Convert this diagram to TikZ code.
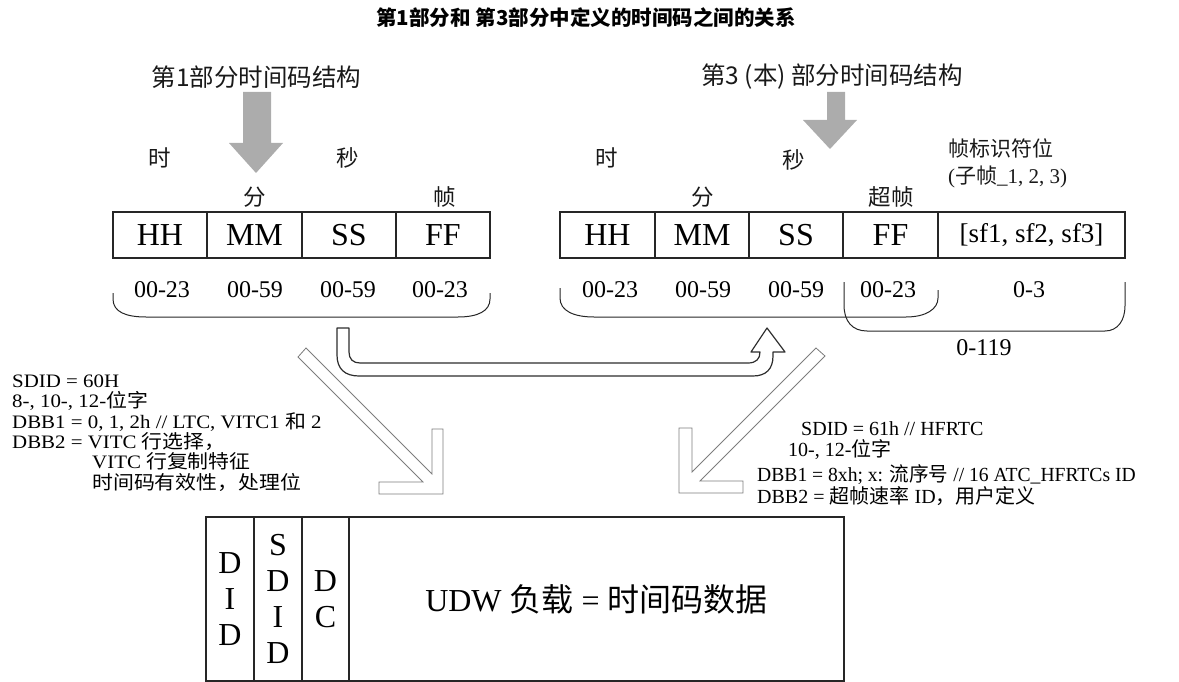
\documentclass[tikz,border=0pt]{standalone}
\usepackage{fontspec}
\setmainfont{Liberation Serif}
\newfontfamily\cjk{Noto Sans CJK SC}
\newcommand\zh[1]{{\cjk #1}}
\newcommand\wid[2]{\scalebox{#1}[1]{#2}}
\definecolor{agray}{RGB}{172,172,172}
\definecolor{ugray}{RGB}{45,45,45}
\definecolor{dgray}{RGB}{125,125,125}
\definecolor{txt}{RGB}{25,25,25}
\begin{document}
\begin{tikzpicture}[x=1pt,y=-1pt,
  cell/.style={draw=black!85, line width=1.2pt, inner sep=0pt, minimum height=46pt, font=\fontsize{32}{32}\selectfont},
  bcell/.style={draw=black!85, line width=1.2pt, inner sep=0pt, minimum height=164pt, align=center, font=\fontsize{32}{36}\selectfont},
  lab/.style={font=\cjk\fontsize{22.5}{22.5}\selectfont, inner sep=0pt, text=txt},
  hdr/.style={font=\cjk\fontsize{24.5}{24.5}\selectfont, inner sep=0pt, text=txt},
  rng/.style={font=\fontsize{24}{24}\selectfont, inner sep=0pt},
  note/.style={font=\fontsize{19}{19}\selectfont, inner sep=0pt, anchor=base west},
  rnote/.style={font=\fontsize{20}{20}\selectfont, inner sep=0pt, anchor=base west},
  brk/.style={draw=black!85, line width=1pt},
  garrow/.style={fill=agray, draw=none},
  uarrow/.style={draw=ugray, line width=1.2pt, line join=round},
  darrow/.style={draw=dgray, line width=0.8pt, line join=miter}]
\useasboundingbox (0,0) rectangle (1179,682);

% title
\node[inner sep=0pt, font=\cjk\bfseries\fontsize{20.5}{20.5}\selectfont] (title) at (586,18) {第1部分和 第3部分中定义的时间码之间的关系};

% headers
\node[hdr] (h1) at (256.5,77) {第1部分时间码结构};
\node[hdr] (h3) at (832,77) {第3 (本) 部分时间码结构};

% gray arrows
\path[garrow] (243,92) -- (271,92) -- (271,143) -- (283,143) -- (256,173) -- (229,143) -- (243,143) -- cycle;
\path[garrow] (827,92) -- (845,92) -- (845,120) -- (857,120) -- (830,149) -- (803,120) -- (827,120) -- cycle;

% left labels
\node[lab] (lh) at (160,158) {时};
\node[lab] (ls) at (348,158) {秒};
\node[lab] (lm) at (255,197) {分};
\node[lab] (lf) at (445,197) {帧};
% right labels
\node[lab] (rh) at (607,158) {时};
\node[lab] (rs) at (794,160) {秒};
\node[lab] (rm) at (703,197) {分};
\node[lab] (rf) at (891,197) {超帧};
\node[lab, anchor=west, font=\cjk\fontsize{21}{21}\selectfont] (rid) at (948,148) {帧标识符位};
\node[lab, anchor=west, font=\fontsize{21}{21}\selectfont] (rsub) at (948,177) {(\zh{子帧}\_1, 2, 3)};

% left row
\node[cell, minimum width=94pt] (LHH) at (160,235) {HH};
\node[cell, minimum width=95pt] (LMM) at (254.5,235) {MM};
\node[cell, minimum width=94pt] (LSS) at (349,235) {SS};
\node[cell, minimum width=94pt] (LFF) at (443,235) {FF};
% right row
\node[cell, minimum width=95pt] (RHH) at (607.5,235) {HH};
\node[cell, minimum width=94pt] (RMM) at (702,235) {MM};
\node[cell, minimum width=94pt] (RSS) at (796,235) {SS};
\node[cell, minimum width=95pt] (RFF) at (890.5,235) {FF};
\node[cell, minimum width=187pt, font=\fontsize{27}{27}\selectfont] (RSF) at (1031.5,235) {[sf1, sf2, sf3]};

% ranges
\node[rng] (l1r) at (162,290) {00-23};
\node[rng] (l2r) at (255,290) {00-59};
\node[rng] (l3r) at (348,290) {00-59};
\node[rng] (l4r) at (440,290) {00-23};
\node[rng] (r1r) at (610,290) {00-23};
\node[rng] (r2r) at (703,290) {00-59};
\node[rng] (r3r) at (796,290) {00-59};
\node[rng] (r4r) at (888,290) {00-23};
\node[rng] (r5r) at (1029,290) {0-3};
\node[rng] (r6r) at (984,348) {0-119};

% brackets
\draw[brk] (113,293) -- (113,299) .. controls (113,312) and (126,317) .. (146,317) -- (458,317) .. controls (478,317) and (490,311) .. (490,299) -- (490,293);
\draw[brk] (560,288) -- (560,298) .. controls (560,311) and (574,317) .. (594,317) -- (906,317) .. controls (926,317) and (938,309) .. (938,298) -- (938,290);
\draw[brk] (844,282) -- (844,305) .. controls (844,321) and (852,331) .. (867,331) -- (1105,331) .. controls (1118,331) and (1125,320) .. (1125,306) -- (1125,282);

% U-turn hollow arrow
\draw[uarrow] (337,328) -- (349,328) -- (349,352) .. controls (349,359) and (353,363) .. (360,363)
  -- (748,363) .. controls (756,363) and (760,359) .. (760,352)
  -- (751,352) -- (767,328) -- (785,352) -- (773,352) -- (773,356)
  .. controls (773,369) and (766,376) .. (753,376)
  -- (359,376) .. controls (345,376) and (337,369) .. (337,355) -- cycle;

% diagonal hollow arrows
\draw[darrow] (306,348) -- (432,474) -- (432,429) -- (443,429) -- (443,494) -- (379,494) -- (379,482) -- (423,482) -- (298,357) -- cycle;
\draw[darrow] (816,348) -- (692,472) -- (692,428) -- (679,428) -- (679,493) -- (743,493) -- (743,481) -- (700,481) -- (825,356) -- cycle;

% left notes
\node[note] (n1) at (12,387) {\wid{1.1}{SDID = 60H}};
\node[note] (n2) at (12,407.4) {\wid{1.1}{8-, 10-, 12-\zh{位字}}};
\node[note] (n3) at (12,428) {\wid{1.1}{DBB1 = 0, 1, 2h // LTC, VITC1 \zh{和} 2}};
\node[note] (n4) at (12,448.2) {\wid{1.1}{DBB2 = VITC \zh{行选择，}}};
\node[note] (n5) at (92,468.6) {\wid{1.1}{VITC \zh{行复制特征}}};
\node[note] (n6) at (92,489) {\wid{1.1}{\zh{时间码有效性，处理位}}};

% right notes
\node[rnote] (m1) at (801,435) {SDID = 61h // HFRTC};
\node[rnote] (m2) at (788,456) {10-, 12-\zh{位字}};
\node[rnote] (m3) at (757,481) {\wid{0.98}{DBB1 = 8xh; x: \zh{流序号} // 16 ATC\_HFRTCs ID}};
\node[rnote] (m4) at (757,503) {DBB2 = \zh{超帧速率} ID\zh{，用户定义}};

% bottom packet
\node[bcell, minimum width=48pt] (DID) at (230,599) {D\\I\\D};
\node[bcell, minimum width=48pt] (SDID) at (278,599) {S\\D\\I\\D};
\node[bcell, minimum width=47pt] (DC) at (325.5,599) {D\\C};
\node[bcell, minimum width=495pt] (UDW) at (596.5,599) {UDW \zh{负载} = \zh{时间码数据}};
\end{tikzpicture}
\end{document}
